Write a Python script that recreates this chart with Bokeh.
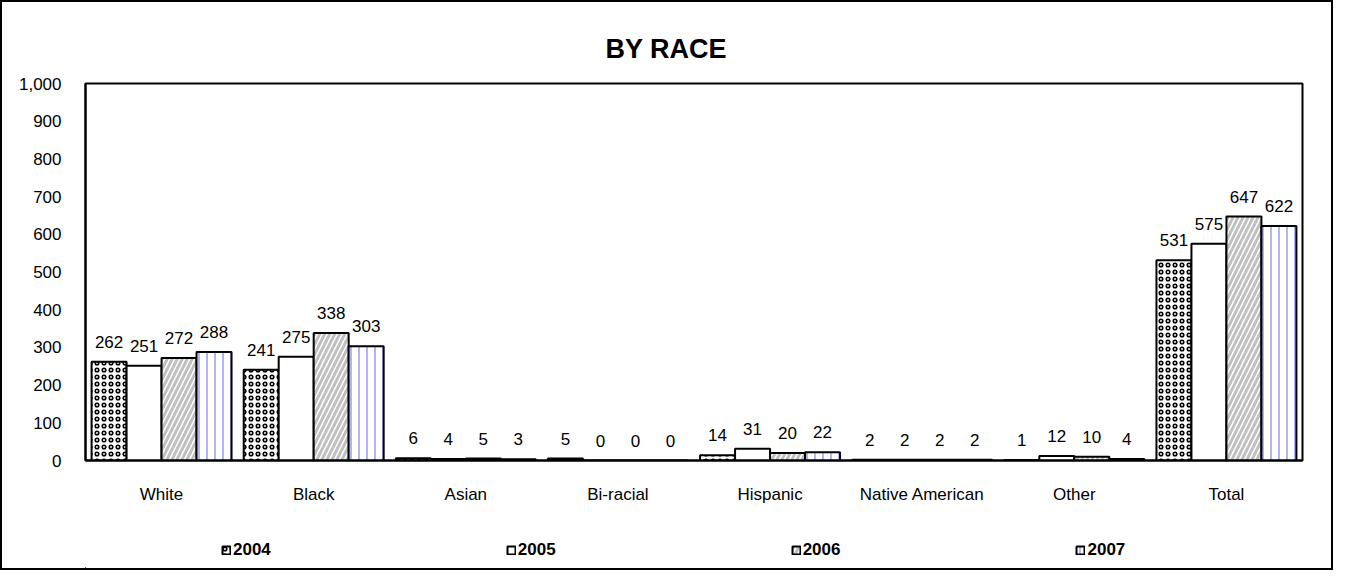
from bokeh.plotting import figure
from bokeh.layouts import column
from bokeh.models import (ColumnDataSource, FactorRange, Range1d, FixedTicker,
                          NumeralTickFormatter, LabelSet, Legend, LegendItem)
from bokeh.core.properties import value
from bokeh.transform import dodge
from bokeh.embed import file_html
from bokeh.resources import INLINE

categories = ["White", "Black", "Asian", "Bi-racial", "Hispanic", "Native American", "Other", "Total"]
years = ["2004", "2005", "2006", "2007"]
v2004 = [262, 241, 6, 5, 14, 2, 1, 531]
v2005 = [251, 275, 4, 0, 31, 2, 12, 575]
v2006 = [272, 338, 5, 0, 20, 2, 10, 647]
v2007 = [288, 303, 3, 0, 22, 2, 4, 622]
y_ticks = list(range(0, 1001, 100))

FONT = "Liberation Sans"

p = figure(x_range=FactorRange(*categories), y_range=Range1d(0, 1000),
           width=1329, height=516, output_backend="svg", toolbar_location=None,
           min_border_left=83, min_border_right=29, min_border_top=81, min_border_bottom=58)
p.background_fill_color = "white"
p.border_fill_color = "white"
p.outline_line_color = "black"
p.outline_line_width = 2
p.xgrid.grid_line_color = None
p.ygrid.grid_line_color = None

p.title.text = "BY RACE"
p.title.align = "left"
p.title.offset = 520
p.title.standoff = 40
p.title.text_font = FONT
p.title.text_font_size = "27px"
p.title.text_font_style = "bold"
p.title.text_color = "black"

series = [v2004, v2005, v2006, v2007]
offsets = [-0.345, -0.115, 0.115, 0.345]
styles = [
    dict(fill_color="white", hatch_pattern="ring", hatch_color="black", hatch_scale=7, hatch_weight=1.6),
    dict(fill_color="white"),
    dict(fill_color="white", hatch_pattern="right_diagonal_line", hatch_color="#c0c0c0", hatch_scale=10, hatch_weight=3),
    dict(fill_color="white", hatch_pattern="vertical_line", hatch_color="#9999ff", hatch_scale=8, hatch_weight=1.5),
]

for yr, vals, off, st in zip(years, series, offsets, styles):
    src = ColumnDataSource(dict(cat=categories, val=vals, txt=[str(v) for v in vals]))
    p.vbar(x=dodge("cat", off, range=p.x_range), top="val", width=0.23, source=src,
           line_color="black", line_width=2, **st)
    lab = LabelSet(x=dodge("cat", off, range=p.x_range), y="val", text="txt", source=src,
                   text_align="center", text_baseline="bottom", y_offset=14,
                   text_font=value(FONT), text_font_size="17px", text_color="black")
    p.add_layout(lab)

p.yaxis.ticker = FixedTicker(ticks=y_ticks)
p.yaxis.formatter = NumeralTickFormatter(format="0,0")
for ax in (p.xaxis, p.yaxis):
    ax.major_tick_line_color = None
    ax.minor_tick_line_color = None
    ax.major_tick_out = 0
    ax.major_tick_in = 0
    ax.axis_line_color = "black"
    ax.axis_line_width = 2
    ax.major_label_text_font = FONT
    ax.major_label_text_font_size = "17px"
    ax.major_label_text_color = "black"
p.yaxis.major_label_standoff = 24
p.xaxis.major_label_standoff = 24

# legend strip (frame is aligned with the chart frame by the column layout)
lg = figure(width=1329, height=50, x_range=Range1d(0, 1), y_range=Range1d(0, 1),
            output_backend="svg", toolbar_location=None,
            min_border_left=0, min_border_right=0, min_border_top=0, min_border_bottom=0)
lg.axis.visible = False
lg.grid.visible = False
lg.outline_line_color = None
lg.background_fill_color = "white"
lg.border_fill_color = "white"
items = []
for yr, st in zip(years, styles):
    # swatch-only renderer, its bar lies outside the visible range
    r = lg.vbar(x=[-10], top=[-10], width=0.1, line_color="black", line_width=2, **st)
    items.append(LegendItem(label=yr, renderers=[r]))
legend = Legend(items=items, orientation="horizontal", location=(136, 8),
                spacing=235, padding=0, margin=0, glyph_width=10, glyph_height=10,
                label_standoff=2, label_height=20,
                label_text_font=FONT, label_text_font_size="17px", label_text_font_style="bold",
                label_text_color="black",
                border_line_color=None, background_fill_alpha=0)
lg.add_layout(legend, "center")

layout = column(p, lg, spacing=0)
layout.styles = {"border": "2px solid black"}

open("out.html", "w").write(file_html(layout, INLINE))
